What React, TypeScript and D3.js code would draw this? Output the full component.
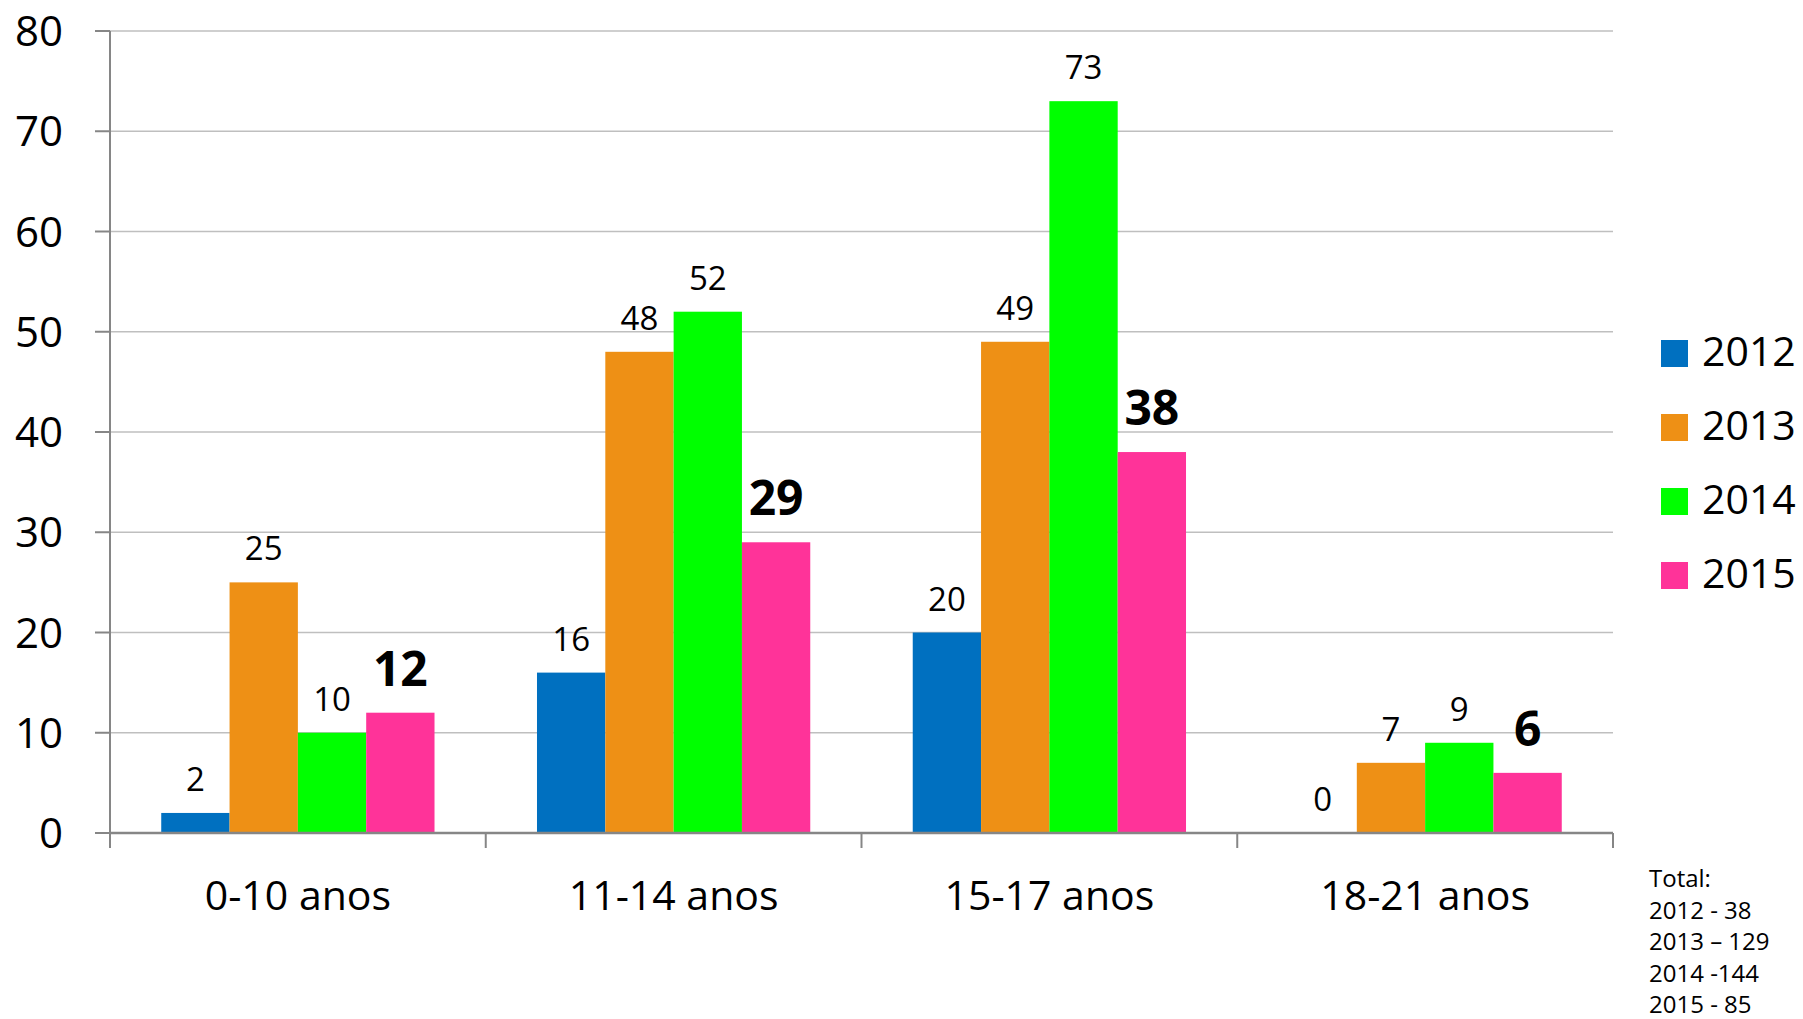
import React from "react";
import * as d3 from "d3";

const categories = ["0-10 anos", "11-14 anos", "15-17 anos", "18-21 anos"];
const seriesNames = ["2012", "2013", "2014", "2015"];
const values2012 = [2, 16, 20, 0];
const values2013 = [25, 48, 49, 7];
const values2014 = [10, 52, 73, 9];
const values2015 = [12, 29, 38, 6];
const seriesColors = ["#0070C0", "#EE9015", "#00FF00", "#FF3399"];
const boldSeries = [false, false, false, true];
const yTicks = [0, 10, 20, 30, 40, 50, 60, 70, 80];
const totalLines = ["Total:", "2012 - 38", "2013 \u2013 129", "2014 -144", "2015 - 85"];

const W = 1803;
const H = 1019;
const FONT = "'Open Sans', 'Noto Sans', sans-serif";

export default function App() {
  const allValues = [values2012, values2013, values2014, values2015];
  const left = 110;
  const right = 1613;
  const top = 31;
  const bottom = 833;

  const y = d3.scaleLinear().domain([0, 80]).range([bottom, top]);
  const x0 = d3.scaleBand<string>().domain(categories).range([left, right]).padding(0);
  const bw = x0.bandwidth();
  const gap = (bw * 1.5) / (seriesNames.length + 1.5);
  const x1 = d3
    .scaleBand<string>()
    .domain(seriesNames)
    .range([gap / 2, bw - gap / 2])
    .padding(0);

  const boundaries = [...categories.map((c) => x0(c) as number), right];

  return (
    <svg
      width={W}
      height={H}
      style={{ position: "absolute", left: 0, top: 0, display: "block", background: "#fff" }}
      fontFamily={FONT}
    >
      {/* gridlines */}
      {yTicks.slice(1).map((t) => (
        <line key={"g" + t} x1={left} x2={right} y1={y(t)} y2={y(t)} stroke="#BFBFBF" strokeWidth={1.5} />
      ))}
      {/* y axis */}
      <line x1={left} x2={left} y1={top} y2={bottom + 15} stroke="#868686" strokeWidth={2} />
      {yTicks.map((t) => (
        <g key={"yt" + t}>
          <line x1={left - 15} x2={left} y1={y(t)} y2={y(t)} stroke="#868686" strokeWidth={2} />
          <text x={63} y={y(t) + 15} textAnchor="end" fontSize={42} fill="#000">
            {t}
          </text>
        </g>
      ))}
      {/* bars */}
      {seriesNames.map((s, si) =>
        categories.map((c, ci) => {
          const v = allValues[si][ci];
          const bx = (x0(c) as number) + (x1(s) as number);
          return (
            <rect
              key={s + c}
              x={bx}
              y={y(v)}
              width={x1.bandwidth()}
              height={bottom - y(v)}
              fill={seriesColors[si]}
            />
          );
        })
      )}
      {/* x axis */}
      <line x1={left} x2={right} y1={bottom} y2={bottom} stroke="#868686" strokeWidth={2.5} />
      {boundaries.map((bx, i) => (
        <line key={"xt" + i} x1={bx} x2={bx} y1={bottom} y2={bottom + 15} stroke="#868686" strokeWidth={2} />
      ))}
      {categories.map((c) => (
        <text key={"cl" + c} x={(x0(c) as number) + bw / 2} y={910} textAnchor="middle" fontSize={41} fill="#000">
          {c}
        </text>
      ))}
      {/* data labels */}
      {seriesNames.map((s, si) =>
        categories.map((c, ci) => {
          const v = allValues[si][ci];
          const cx = (x0(c) as number) + (x1(s) as number) + x1.bandwidth() / 2;
          const bold = boldSeries[si];
          return (
            <text
              key={"dl" + s + c}
              x={cx}
              y={y(v) - (bold ? 27 : 22)}
              textAnchor="middle"
              fontSize={bold ? 48 : 33}
              fontWeight={bold ? 700 : 400}
              fill="#000"
            >
              {v}
            </text>
          );
        })
      )}
      {/* legend */}
      {seriesNames.map((s, si) => (
        <g key={"lg" + s} transform={`translate(1661, ${340 + si * 74})`}>
          <rect x={0} y={0} width={27} height={27} fill={seriesColors[si]} />
          <text x={41} y={26} fontSize={41} fill="#000">
            {s}
          </text>
        </g>
      ))}
      {/* totals note */}
      {totalLines.map((t, i) => (
        <text key={"tot" + i} x={1649} y={887 + i * 31.5} fontSize={24} fill="#000">
          {t}
        </text>
      ))}
    </svg>
  );
}
